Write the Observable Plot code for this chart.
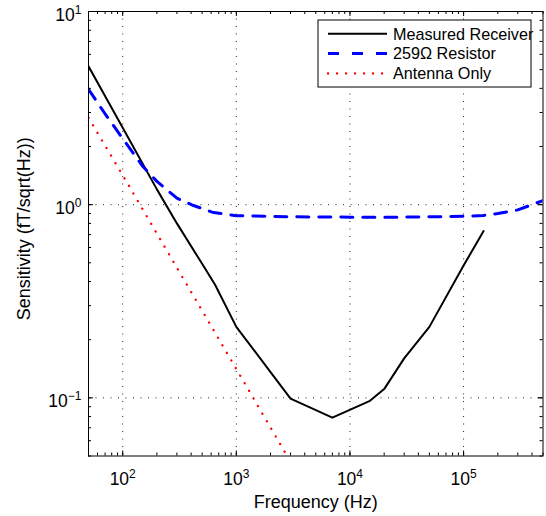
<!DOCTYPE html>
<html>
<head>
<meta charset="utf-8">
<script src="https://cdn.jsdelivr.net/npm/d3@7"></script>
<script src="https://cdn.jsdelivr.net/npm/@observablehq/plot@0.6"></script>
<style>
  html, body { margin: 0; padding: 0; background: #fff; }
  #chart { width: 546px; height: 516px; }
</style>
</head>
<body>
<div id="chart"></div>
<script>
// ---- Data ----
const receiverFreq = [50, 100, 200, 300, 500, 650, 1000, 2000, 3000, 7000, 15000, 20000, 30000, 50000, 100000, 150000];
const receiverSens = [5.2, 2.5, 1.2, 0.80, 0.494, 0.385, 0.233, 0.136, 0.099, 0.079, 0.0965, 0.111, 0.16, 0.233, 0.484, 0.73];

const resistorFreq = [50, 70, 100, 150, 200, 300, 420, 630, 1000, 3000, 10000, 30000, 100000, 150000, 200000, 300000, 400000, 500000];
const resistorSens = [3.96, 2.95, 2.2, 1.58, 1.32, 1.08, 0.99, 0.91, 0.877, 0.865, 0.862, 0.862, 0.87, 0.88, 0.90, 0.94, 1.0, 1.05];

const antennaFreq = [50, 100, 1000, 2800];
const antennaSens = [2.82, 1.42, 0.141, 0.05];

const seriesNames = ["Measured Receiver", "259\u03A9 Resistor", "Antenna Only"];
const seriesColors = ["#000000", "#0000ff", "#ff0000"];

const xDomain = [50, 5e5];
const yDomain = [0.05, 10];
const xTickExps = [2, 3, 4, 5];
const yTickExps = [-1, 0, 1];
const xLabel = "Frequency (Hz)";
const yLabel = "Sensitivity (fT/sqrt(Hz))";

// ---- Derived tables ----
const receiver = receiverFreq.map((f, i) => ({f, s: receiverSens[i]}));
const resistor = resistorFreq.map((f, i) => ({f, s: resistorSens[i]}));
const antenna = antennaFreq.map((f, i) => ({f, s: antennaSens[i]}));

function minorTicks([lo, hi]) {
  const out = [];
  for (let e = Math.floor(Math.log10(lo)); e <= Math.ceil(Math.log10(hi)); e++) {
    for (let m = 1; m <= 9; m++) {
      const v = +(m * Math.pow(10, e)).toPrecision(6);
      if (v >= lo * 0.9999 && v <= hi * 1.0001) out.push(v);
    }
  }
  return out;
}
const xMinor = minorTicks(xDomain);
const yMinor = minorTicks(yDomain);
const xMajor = xTickExps.map(e => Math.pow(10, e));
const yMajor = yTickExps.map(e => Math.pow(10, e));

// ---- Layout ----
const W = 546, H = 516;
const mL = 88, mR = 3.5, mT = 11, mB = 60.5;
const innerW = W - mL - mR, innerH = H - mT - mB;
const minorLen = 3, majorLen = 5;

const tickStyle = {stroke: "#000", strokeWidth: 1};
const gridStyle = {stroke: "#222", strokeWidth: 1, strokeDasharray: "1,6.5"};

const plot = Plot.plot({
  width: W, height: H,
  marginLeft: mL, marginRight: mR, marginTop: mT, marginBottom: mB,
  x: {type: "log", domain: xDomain, axis: null},
  y: {type: "log", domain: yDomain, axis: null},
  style: {fontFamily: "'Liberation Sans', Arial, Helvetica, sans-serif", fontSize: "16px", background: "#fff", color: "#000"},
  marks: [
    // grid
    Plot.ruleX(xMajor.filter(v => v > xDomain[0] && v < xDomain[1]), gridStyle),
    Plot.ruleY(yMajor.filter(v => v > yDomain[0] && v < yDomain[1]), gridStyle),
    // minor ticks (inside, all four sides)
    Plot.ruleX(xMinor, {...tickStyle, insetTop: innerH - minorLen}),
    Plot.ruleX(xMinor, {...tickStyle, insetBottom: innerH - minorLen}),
    Plot.ruleY(yMinor, {...tickStyle, insetRight: innerW - minorLen}),
    Plot.ruleY(yMinor, {...tickStyle, insetLeft: innerW - minorLen}),
    // major ticks
    Plot.ruleX(xMajor, {...tickStyle, insetTop: innerH - majorLen}),
    Plot.ruleX(xMajor, {...tickStyle, insetBottom: innerH - majorLen}),
    Plot.ruleY(yMajor, {...tickStyle, insetRight: innerW - majorLen}),
    Plot.ruleY(yMajor, {...tickStyle, insetLeft: innerW - majorLen}),
    // series
    Plot.line(receiver, {x: "f", y: "s", stroke: seriesColors[0], strokeWidth: 2, clip: true}),
    Plot.line(resistor, {x: "f", y: "s", stroke: seriesColors[1], strokeWidth: 3, strokeDasharray: "12,10", clip: true}),
    Plot.line(antenna, {x: "f", y: "s", stroke: seriesColors[2], strokeWidth: 2.3, strokeDasharray: "0.1,8.7", strokeLinecap: "round", clip: true}),
    // frame
    Plot.frame({stroke: "#000", strokeWidth: 1}),
    // tick labels
    Plot.text(xMajor, {x: d => d, frameAnchor: "bottom", dy: 29, lineAnchor: "bottom", textAnchor: "middle",
      text: d => "10^" + Math.round(Math.log10(d)), fontSize: 17.5, fill: "#000"}),
    Plot.text(yMajor, {y: d => d, frameAnchor: "left", dx: -7, dy: 4, lineAnchor: "middle", textAnchor: "end",
      text: d => "10^" + Math.round(Math.log10(d)), fontSize: 17.5, fill: "#000"}),
    // axis labels
    Plot.text([xLabel], {frameAnchor: "bottom", dy: 52, lineAnchor: "bottom", textAnchor: "middle", text: d => d, fontSize: 18, fill: "#000"}),
    Plot.text([yLabel], {frameAnchor: "left", dx: -59, dy: -5, lineAnchor: "bottom", textAnchor: "middle", rotate: -90, text: d => d, fontSize: 18, fill: "#000"})
  ]
});

document.getElementById("chart").appendChild(plot);

// superscript exponents in tick labels
d3.select(plot).selectAll("text").each(function() {
  const t = this.textContent;
  if (t.startsWith("10^")) {
    const exp = t.slice(3).replace("-", "\u2212");
    const sel = d3.select(this);
    sel.text(null);
    sel.append("tspan").text("10");
    sel.append("tspan").attr("dy", "-7.5").attr("font-size", "12").text(exp);
  }
});

// legend (inside the axes, top right)
const lg = d3.select(plot).append("g").attr("class", "legend").attr("text-anchor", "start");
const box = {x: 318, y: 20, w: 213, h: 67};
lg.append("rect").attr("x", box.x).attr("y", box.y).attr("width", box.w).attr("height", box.h)
  .attr("fill", "#fff").attr("stroke", "#000").attr("stroke-width", 1);
const rowY = [33.7, 53.5, 73.5];
const legendStyles = [
  {w: 2, dash: null, cap: "butt"},
  {w: 3, dash: "11,13", cap: "butt"},
  {w: 2.3, dash: "0.1,8.9", cap: "round"}
];
seriesNames.forEach((name, i) => {
  const st = legendStyles[i];
  const ln = lg.append("line").attr("x1", 328).attr("x2", 387).attr("y1", rowY[i]).attr("y2", rowY[i])
    .attr("stroke", seriesColors[i]).attr("stroke-width", st.w).attr("stroke-linecap", st.cap);
  if (st.dash) ln.attr("stroke-dasharray", st.dash);
  lg.append("text").attr("x", 393).attr("y", rowY[i]).attr("dy", "0.36em").attr("text-anchor", "start")
    .attr("font-size", 16.2).attr("fill", "#000").text(name);
});
</script>
</body>
</html>
